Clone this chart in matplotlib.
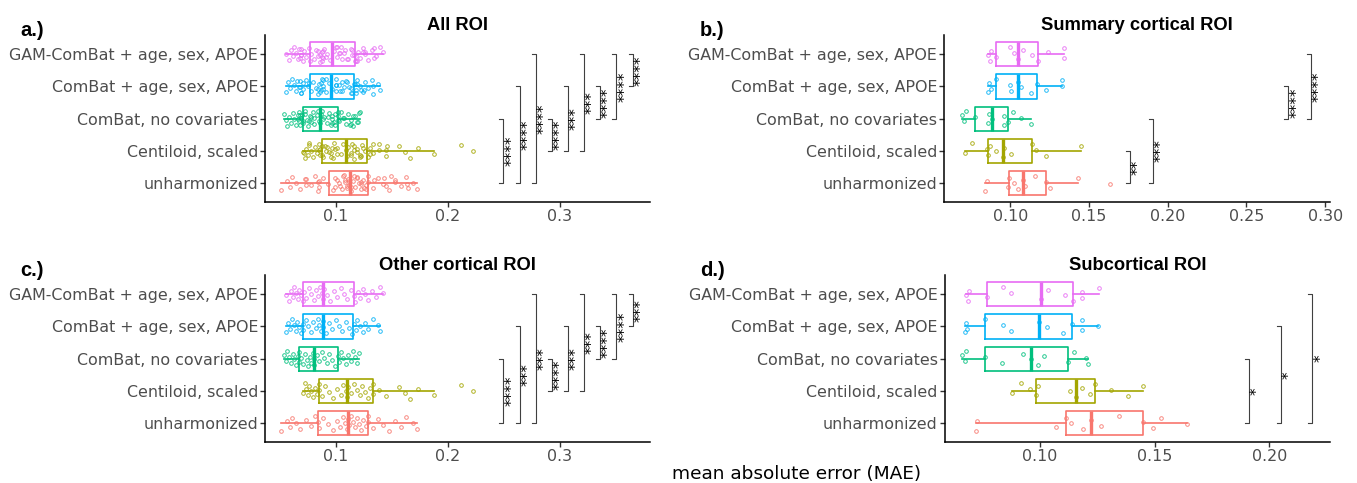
import matplotlib

matplotlib.use("Agg")

import matplotlib.pyplot as plt
import numpy as np

GROUPS = [
    "unharmonized",
    "Centiloid, scaled",
    "ComBat, no covariates",
    "ComBat + age, sex, APOE",
    "GAM-ComBat + age, sex, APOE",
]
COLORS = ["#F8766D", "#A3A500", "#00BF7D", "#00B0F6", "#E76BF3"]

# summary cortical ROI, MAE per ROI
summary_unharm = [0.0842, 0.0851, 0.0987, 0.0994, 0.1025, 0.1050, 0.1080, 0.1095, 0.1158, 0.1225, 0.1251, 0.1429, 0.1635]
summary_centiloid = [0.0712, 0.0758, 0.0852, 0.0859, 0.0874, 0.0912, 0.0954, 0.0964, 0.1004, 0.1141, 0.1162, 0.1227, 0.1452]
summary_combat = [0.0695, 0.0706, 0.0720, 0.0779, 0.0857, 0.0863, 0.0885, 0.0958, 0.0962, 0.0985, 0.1021, 0.1069, 0.1130]
summary_combat_cov = [0.0857, 0.0865, 0.0880, 0.0912, 0.0998, 0.1003, 0.1052, 0.1067, 0.1132, 0.1170, 0.1225, 0.1326, 0.1330]
summary_gam = [0.0857, 0.0874, 0.0880, 0.0912, 0.1000, 0.1027, 0.1052, 0.1084, 0.1141, 0.1175, 0.1238, 0.1342, 0.1344]

# other cortical ROI
other_unharm = [0.0508, 0.0560, 0.0585, 0.0610, 0.0640, 0.0680, 0.0730, 0.0780, 0.0815, 0.0840,
                0.0843, 0.0880, 0.0925, 0.0970, 0.1005, 0.1035, 0.1060, 0.1080, 0.1098, 0.1108,
                0.1112, 0.1130, 0.1150, 0.1168, 0.1185, 0.1205, 0.1225, 0.1245, 0.1265, 0.1282,
                0.1285, 0.1330, 0.1375, 0.1420, 0.1470, 0.1530, 0.1580, 0.1630, 0.1690, 0.1722]
other_centiloid = [0.0707, 0.0718, 0.0730, 0.0745, 0.0760, 0.0772, 0.0790, 0.0808, 0.0825, 0.0843,
                   0.0846, 0.0870, 0.0905, 0.0940, 0.0975, 0.1010, 0.1040, 0.1065, 0.1085, 0.1098,
                   0.1104, 0.1130, 0.1158, 0.1185, 0.1210, 0.1235, 0.1260, 0.1282, 0.1305, 0.1327,
                   0.1335, 0.1380, 0.1450, 0.1560, 0.1620, 0.1660, 0.1730, 0.1877, 0.2117, 0.2222]
other_combat = [0.0534, 0.0550, 0.0565, 0.0580, 0.0598, 0.0612, 0.0628, 0.0640, 0.0655, 0.0669,
                0.0672, 0.0688, 0.0705, 0.0722, 0.0738, 0.0752, 0.0768, 0.0780, 0.0795, 0.0805,
                0.0807, 0.0825, 0.0848, 0.0870, 0.0892, 0.0915, 0.0938, 0.0962, 0.0988, 0.1013,
                0.1022, 0.1040, 0.1062, 0.1085, 0.1110, 0.1132, 0.1155, 0.1172, 0.1190, 0.1209]
other_combat_cov = [0.0556, 0.0570, 0.0592, 0.0610, 0.0622, 0.0641, 0.0652, 0.0670, 0.0688, 0.0705,
                    0.0708, 0.0730, 0.0752, 0.0775, 0.0795, 0.0818, 0.0835, 0.0850, 0.0866, 0.0879,
                    0.0883, 0.0910, 0.0938, 0.0965, 0.0998, 0.1025, 0.1055, 0.1088, 0.1115, 0.1146,
                    0.1160, 0.1175, 0.1190, 0.1215, 0.1238, 0.1260, 0.1290, 0.1330, 0.1372, 0.1394]
other_gam = [0.0556, 0.0580, 0.0598, 0.0612, 0.0625, 0.0640, 0.0655, 0.0668, 0.0690, 0.0705,
             0.0709, 0.0735, 0.0760, 0.0778, 0.0801, 0.0822, 0.0840, 0.0858, 0.0872, 0.0885,
             0.0889, 0.0915, 0.0948, 0.0980, 0.1012, 0.1040, 0.1068, 0.1095, 0.1130, 0.1158,
             0.1170, 0.1195, 0.1215, 0.1240, 0.1262, 0.1290, 0.1320, 0.1355, 0.1390, 0.1418]

# subcortical ROI
subcort_unharm = [0.0721, 0.0728, 0.1070, 0.1112, 0.1134, 0.1186, 0.1225, 0.1266, 0.1344, 0.1448, 0.1494, 0.1530, 0.1642]
subcort_centiloid = [0.0879, 0.0916, 0.0956, 0.0983, 0.0993, 0.1131, 0.1157, 0.1184, 0.1218, 0.1241, 0.1308, 0.1385, 0.1448]
subcort_combat = [0.0661, 0.0675, 0.0680, 0.0760, 0.0837, 0.0927, 0.0961, 0.0993, 0.1017, 0.1123, 0.1148, 0.1199, 0.1211]
subcort_combat_cov = [0.0673, 0.0680, 0.0682, 0.0760, 0.0840, 0.0872, 0.0997, 0.1032, 0.1102, 0.1138, 0.1182, 0.1184, 0.1252]
subcort_gam = [0.0677, 0.0685, 0.0690, 0.0768, 0.0840, 0.0874, 0.1004, 0.1036, 0.1109, 0.1143, 0.1182, 0.1185, 0.1258]

summary = [summary_unharm, summary_centiloid, summary_combat, summary_combat_cov, summary_gam]
other = [other_unharm, other_centiloid, other_combat, other_combat_cov, other_gam]
subcort = [subcort_unharm, subcort_centiloid, subcort_combat, subcort_combat_cov, subcort_gam]
all_roi = [s + o + c for s, o, c in zip(summary, other, subcort)]

# pairwise comparisons (group index, 1 = unharmonized) and significance labels
PAIRS = [(1, 2), (1, 3), (1, 4), (1, 5), (2, 3), (2, 4), (2, 5), (3, 4), (3, 5), (4, 5)]
SIG_ALL = [None, "****", "****", "****", "****", "***", "***", "****", "****", "****"]
SIG_SUMMARY = ["**", "***", None, None, None, None, None, "****", "****", None]
SIG_OTHER = [None, "****", "***", "***", "****", "***", "***", "****", "****", "***"]
SIG_SUBCORT = [None, "*", "*", "*", None, None, None, None, None, None]

W, H = 1357, 483
fig = plt.figure(figsize=(W / 100, H / 100), dpi=100)


def px_axes(left, top, right, bottom):
    return fig.add_axes([left / W, 1 - bottom / H, (right - left) / W, (bottom - top) / H])


def draw_panel(ax, data, sig, xlim, ticks, fmt, title, br_base, br_step):
    for k, vals in enumerate(data):
        pos = k + 1
        color = COLORS[k]
        ax.boxplot(
            vals,
            positions=[pos],
            widths=0.75,
            orientation="horizontal",
            showcaps=False,
            showfliers=False,
            manage_ticks=False,
            boxprops={"color": color, "linewidth": 1.2},
            whiskerprops={"color": color, "linewidth": 1.2},
            medianprops={"color": color, "linewidth": 2.4},
        )
        idx = np.arange(len(vals))
        jit = ((idx * 0.618034 + k * 0.37) % 1.0 - 0.5) * 0.48
        ax.plot(vals, pos + jit, "o", ms=2.6, mfc="none", mec=color,
                mew=0.7, alpha=0.85, ls="none")

    tick = 0.0104 * (xlim[1] - xlim[0])
    for i, ((lo, hi), lab) in enumerate(zip(PAIRS, sig)):
        if lab is None:
            continue
        xb = br_base + i * br_step
        ax.plot([xb - tick, xb, xb, xb - tick], [lo, lo, hi, hi],
                color="#404040", lw=0.8)
        ax.annotate(lab, xy=(xb, (lo + hi) / 2), xytext=(6, 0),
                    textcoords="offset points", rotation=90, ha="center",
                    va="center", rotation_mode="anchor", fontsize=11)

    ax.set_xlim(*xlim)
    ax.set_ylim(0.4, 5.6)
    ax.set_xticks(ticks)
    ax.set_xticklabels([fmt.format(t) for t in ticks])
    ax.set_yticks(range(1, 6))
    ax.set_yticklabels(GROUPS)
    for side in ("top", "right"):
        ax.spines[side].set_visible(False)
    for side in ("left", "bottom"):
        ax.spines[side].set_linewidth(1.1)
    ax.tick_params(length=3.5, width=1, color="#333333", labelcolor="#4D4D4D",
                   labelsize=11.4, pad=1.5)
    ax.set_title(title, fontsize=13.2, fontweight="bold",
                 family="Liberation Sans", pad=3.3)


ax_a = px_axes(265, 35, 650, 202.3)
ax_b = px_axes(944, 35, 1330, 202.3)
ax_c = px_axes(265, 275, 650, 442.3)
ax_d = px_axes(944.7, 275, 1330, 442.3)

draw_panel(ax_a, all_roi, SIG_ALL, (0.0364, 0.381), [0.1, 0.2, 0.3], "{:.1f}",
           "All ROI", 0.2353, 0.01445)
draw_panel(ax_b, summary, SIG_SUMMARY, (0.058, 0.303),
           [0.10, 0.15, 0.20, 0.25, 0.30], "{:.2f}", "Summary cortical ROI",
           0.1761, 0.01435)
draw_panel(ax_c, other, SIG_OTHER, (0.0364, 0.381), [0.1, 0.2, 0.3], "{:.1f}",
           "Other cortical ROI", 0.2353, 0.01445)
draw_panel(ax_d, subcort, SIG_SUBCORT, (0.0585, 0.2265), [0.10, 0.15, 0.20],
           "{:.2f}", "Subcortical ROI", 0.1773, 0.01385)

for label, x, y in [("a.)", 20, 35.5), ("b.)", 700, 35.5), ("c.)", 20, 276), ("d.)", 700, 276)]:
    fig.text(x / W, 1 - y / H, label, fontsize=14.5, fontweight="bold",
             family="Liberation Sans", va="baseline", ha="left")

fig.text(797 / W, 1 - 474 / H, "mean absolute error (MAE)", ha="center",
         va="center", fontsize=13.3)

fig.savefig("out.png", dpi=100)
plt.close(fig)
